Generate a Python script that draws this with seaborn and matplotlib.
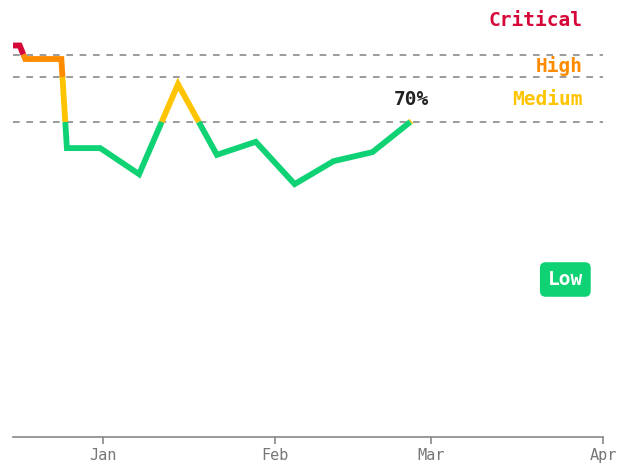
import matplotlib
matplotlib.use("Agg")
import matplotlib.pyplot as plt
import matplotlib.dates as mdates
import seaborn as sns
import pandas as pd

# ---- data ----
dates = ["2024-12-15 00:00", "2024-12-17 00:00", "2024-12-18 00:00", "2024-12-24 12:00",
         "2024-12-25 12:00", "2024-12-31 12:00", "2025-01-07 12:00", "2025-01-14 12:00",
         "2025-01-21 12:00", "2025-01-28 12:00", "2025-02-04 12:00", "2025-02-11 12:00",
         "2025-02-18 12:00", "2025-02-25 12:00"]
values = [87.0, 87.0, 84.0, 84.0, 64.2, 64.2, 58.4, 78.4, 62.7, 65.6,
          56.2, 61.3, 63.3, 70.2]
thresholds = [70, 80, 85]
band_names = ["Low", "Medium", "High", "Critical"]
band_colors = {"Low": "#0fd275", "Medium": "#ffc400", "High": "#ff8c00", "Critical": "#d6083a"}
band_label_values = [35, 75, 82.5, 92.5]

sns.set_theme(style="white")
plt.rcParams["font.family"] = ["DejaVu Sans Mono", "DejaVu Sans"]


def band_of(v):
    idx = 0
    for th in thresholds:
        if v >= th:
            idx += 1
    return band_names[idx]


ts = [pd.Timestamp(d) for d in dates]
runs = []
cur_band, cur = None, []
for i in range(len(ts) - 1):
    t0, v0, t1, v1 = ts[i], values[i], ts[i + 1], values[i + 1]
    cuts = sorted((th - v0) / (v1 - v0) for th in thresholds if (v0 - th) * (v1 - th) < 0)
    fr = [0.0] + cuts + [1.0]
    for a, b in zip(fr[:-1], fr[1:]):
        pa = (t0 + (t1 - t0) * a, v0 + (v1 - v0) * a)
        pb = (t0 + (t1 - t0) * b, v0 + (v1 - v0) * b)
        bd = band_of((pa[1] + pb[1]) / 2)
        if bd == cur_band:
            cur.append(pb)
        else:
            if cur:
                runs.append((cur_band, cur))
            cur_band, cur = bd, [pa, pb]
runs.append((cur_band, cur))

rows = []
for rid, (bd, pts) in enumerate(runs):
    for t, v in pts:
        rows.append({"run": rid, "band": bd, "date": t, "value": v})
df = pd.DataFrame(rows)

fig = plt.figure(figsize=(6.29, 4.66), dpi=100)
ax = fig.add_axes([13 / 629, 29 / 466, 590 / 629, 450 / 466])

for th in thresholds:
    ax.axhline(th, color="#8a8a8a", lw=1.2, ls=(0, (4, 4)), zorder=1)

sns.lineplot(data=df, x="date", y="value", hue="band", units="run", estimator=None,
             sort=False, palette=band_colors, linewidth=4.2, legend=False, ax=ax,
             solid_capstyle="butt", solid_joinstyle="miter", zorder=3)

ax.set_ylim(0, 100)
ax.set_xlim(pd.Timestamp("2025-01-01") - pd.Timedelta(days=16.2), pd.Timestamp("2025-04-01"))

# band labels
for name, yv in zip(band_names, band_label_values):
    if name == "Low":
        ax.text(0.966, yv, name, transform=ax.get_yaxis_transform(), ha="right", va="center",
                fontsize=14, fontweight="bold", color="white",
                bbox=dict(boxstyle="round,pad=0.4,rounding_size=0.3",
                          fc=band_colors[name], ec="none"))
    else:
        ax.text(0.966, yv, name, transform=ax.get_yaxis_transform(), ha="right", va="center",
                fontsize=14, fontweight="bold", color=band_colors[name])

ax.annotate(f"{values[-1]:.0f}%", xy=(ts[-1], values[-1]), xytext=(0, 12),
            textcoords="offset pixels", ha="center", va="bottom",
            fontsize=14, fontweight="bold", color="#222222")

ax.xaxis.set_major_locator(mdates.MonthLocator())
ax.xaxis.set_major_formatter(mdates.DateFormatter("%b"))
ax.tick_params(axis="x", colors="#888888", labelcolor="#777777", length=5, width=1.2,
               pad=3, labelsize=11, direction="out", bottom=True)
ax.set_yticks([])
ax.set_xlabel("")
ax.set_ylabel("")
for s in ["left", "top", "right"]:
    ax.spines[s].set_visible(False)
ax.spines["bottom"].set_color("#888888")
ax.spines["bottom"].set_linewidth(1.2)
ax.set_facecolor("white")
fig.patch.set_facecolor("white")

fig.savefig("out.png", dpi=100)
